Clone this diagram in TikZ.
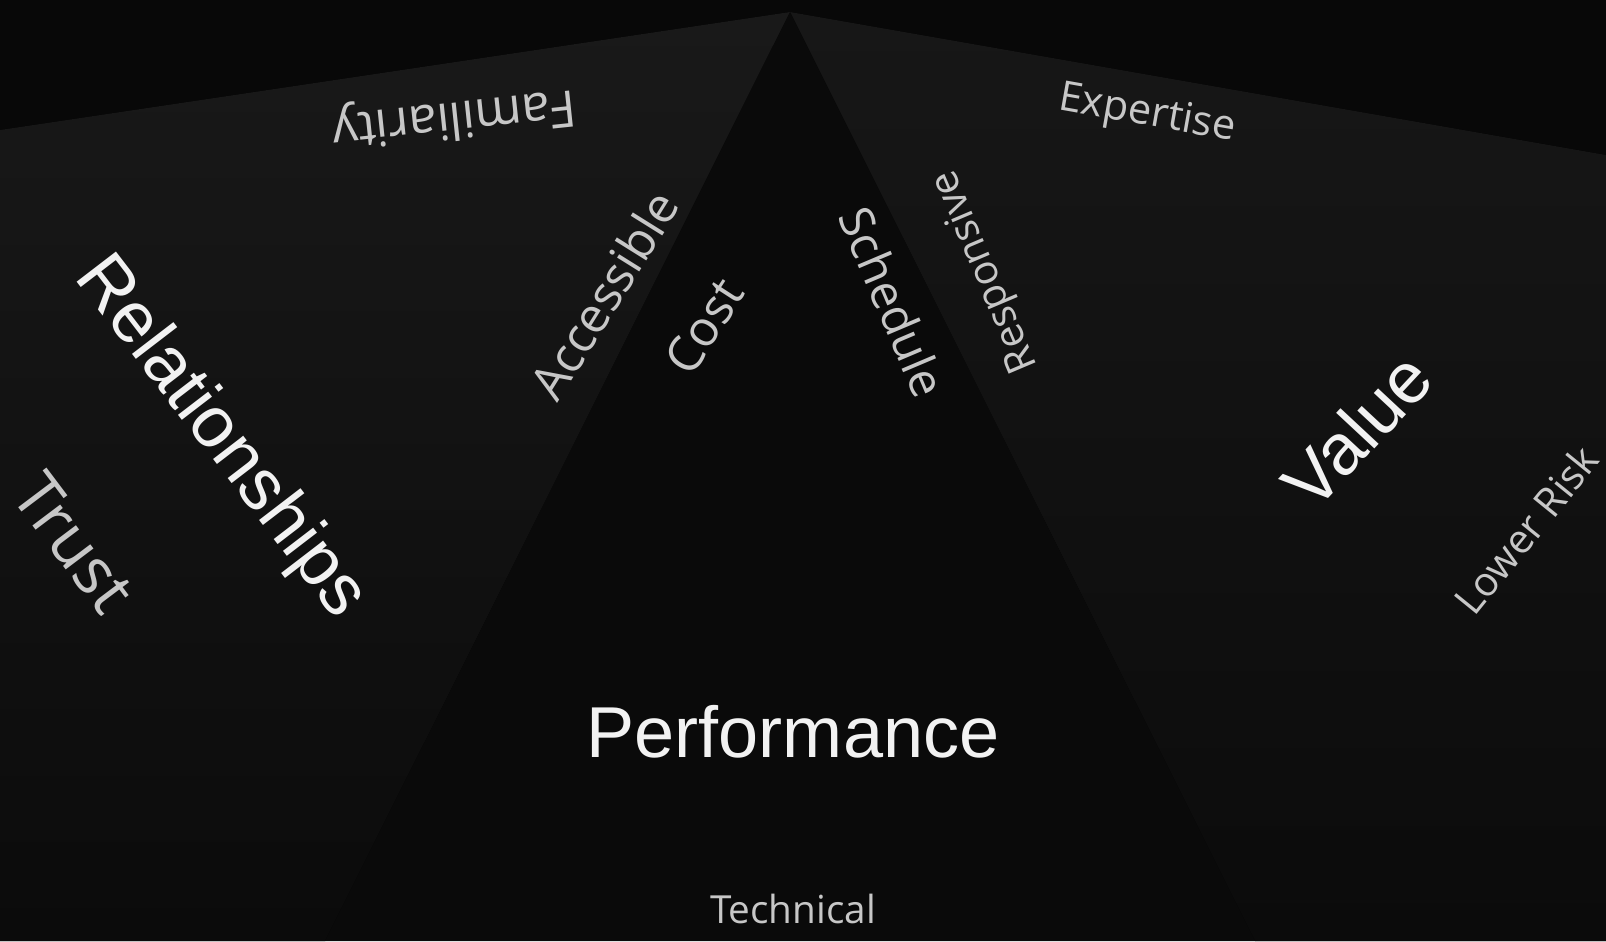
\documentclass[tikz,border=0pt]{standalone}
\usepackage{fontspec}
\setmainfont{Open Sans}
\newfontfamily\headfont{Liberation Sans}
\definecolor{bgdark}{HTML}{080808}
\definecolor{lefttop}{HTML}{191919}
\definecolor{leftbot}{HTML}{0B0B0B}
\definecolor{righttop}{HTML}{171717}
\definecolor{rightbot}{HTML}{0B0B0B}
\definecolor{midface}{HTML}{0A0A0A}
\newcommand\fsz[1]{\fontsize{#1}{#1}\selectfont}
\begin{document}
\begin{tikzpicture}[x=0.01cm,y=-0.01cm,line join=round,
	lbl/.style={inner sep=0pt,text=white!78!black},
	head/.style={inner sep=0pt,text=white!95!black,font=\headfont\fsz{20.5}}]
		\useasboundingbox (0,0) rectangle (1606,941);
		\fill[bgdark] (0,0) rectangle (1606,941);
		\coordinate (apex) at (790,12);
		\coordinate (lefttip) at (0,130);
		\coordinate (righttip) at (1606,155);
		\coordinate (leftfoot) at (325,941);
		\coordinate (rightfoot) at (1255,941);
		\fill[top color=lefttop,bottom color=leftbot] (apex) -- (lefttip) -- (0,941) -- (leftfoot) -- cycle;
		\fill[top color=righttop,bottom color=rightbot] (apex) -- (righttip) -- (1606,941) -- (rightfoot) -- cycle;
		\fill[midface] (apex) -- (leftfoot) -- (rightfoot) -- cycle;
		\node[lbl,rotate=186,font=\fsz{14.4}] (familiarity) at (454,116) {Familiarity};
		\node[lbl,rotate=-10,font=\fsz{11.8}] (expertise) at (1147,115) {Expertise};
		\node[lbl,rotate=58,font=\fsz{13.9}] (accessible) at (604,295) {Accessible};
		\node[lbl,rotate=57,font=\fsz{14}] (cost) at (704,326) {Cost};
		\node[lbl,rotate=-67,font=\fsz{13.4}] (schedule) at (893,302) {Schedule};
		\node[lbl,rotate=113,font=\fsz{11.6}] (responsive) at (986,271) {Responsive};
		\node[lbl,rotate=-53,font=\fsz{18.5}] (trust) at (74,543) {Trust};
		\node[lbl,rotate=51,font=\fsz{11.5}] (lowerrisk) at (1526,530) {Lower Risk};
		\node[lbl,font=\fsz{11}] (technical) at (793,909) {Technical};
		\node[head,rotate=-52.5] (relationships) at (220,438) {Relationships};
		\node[head] (performance) at (793,732) {Performance};
		\node[head,rotate=47] (value) at (1357,430) {Value};
\end{tikzpicture}
\end{document}
